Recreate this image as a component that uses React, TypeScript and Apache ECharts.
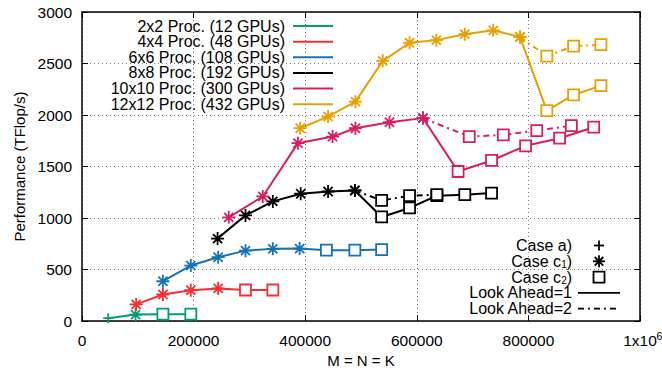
import React, { useEffect, useRef } from 'react';
import * as echarts from 'echarts';

const FONT = "'Liberation Sans', Arial, Helvetica, sans-serif";

// ---- axes ----
const xMin = 0;
const xMax = 1000000;
const xStep = 200000;
const yMin = 0;
const yMax = 3000;
const yStep = 500;
const xMaxLabel = '1x10';
const xMaxLabelExp = '6';

// ---- series names / colours ----
const names = [
  '2x2 Proc. (12 GPUs)',
  '4x4 Proc. (48 GPUs)',
  '6x6 Proc. (108 GPUs)',
  '8x8 Proc. (192 GPUs)',
  '10x10 Proc. (300 GPUs)',
  '12x12 Proc. (432 GPUs)',
];
const colors = ['#009e73', '#f72f35', '#1672b5', '#000000', '#d81e62', '#e8a000'];

// ---- data (Look Ahead = 1) ----
const p2x2X = [47000, 96000, 145000, 195000];
const p2x2Y = [28, 63, 67, 67];
const p2x2Case = ['a', 'c1', 'c2', 'c2'];

const p4x4X = [97000, 145000, 195000, 244000, 293000, 342000];
const p4x4Y = [162, 258, 300, 317, 302, 302];
const p4x4Case = ['c1', 'c1', 'c1', 'c1', 'c2', 'c2'];

const p6x6X = [145000, 195000, 244000, 293000, 342000, 390000, 438000, 489000, 537000];
const p6x6Y = [387, 539, 620, 684, 701, 704, 688, 688, 694];
const p6x6Case = ['c1', 'c1', 'c1', 'c1', 'c1', 'c1', 'c2', 'c2', 'c2'];

const p8x8X = [243000, 293000, 342000, 392000, 441000, 489000, 537000, 587000, 636000, 686000, 734000];
const p8x8Y = [801, 1026, 1162, 1236, 1258, 1268, 1011, 1098, 1217, 1227, 1243];
const p8x8Case = ['c1', 'c1', 'c1', 'c1', 'c1', 'c1', 'c2', 'c2', 'c2', 'c2', 'c2'];

const p10x10X = [263000, 324000, 387000, 449000, 490000, 551000, 611000, 674000, 734000, 795000, 856000, 917000];
const p10x10Y = [1007, 1210, 1727, 1791, 1872, 1930, 1970, 1452, 1559, 1701, 1775, 1882];
const p10x10Case = ['c1', 'c1', 'c1', 'c1', 'c1', 'c1', 'c1', 'c2', 'c2', 'c2', 'c2', 'c2'];

const p12x12X = [391000, 441000, 490000, 539000, 587000, 635000, 686000, 737000, 785000, 833000, 881000, 930000];
const p12x12Y = [1872, 1985, 2130, 2526, 2701, 2727, 2785, 2822, 2757, 2043, 2195, 2285];
const p12x12Case = ['c1', 'c1', 'c1', 'c1', 'c1', 'c1', 'c1', 'c1', 'c1', 'c2', 'c2', 'c2'];

// ---- data (Look Ahead = 2) ----
const p8x8La2X = [489000, 537000, 587000, 636000];
const p8x8La2Y = [1268, 1171, 1217, 1227];
const p8x8La2Case = ['c1', 'c2', 'c2', 'c2'];

const p10x10La2X = [611000, 694000, 755000, 815000, 877000];
const p10x10La2Y = [1970, 1791, 1807, 1849, 1897];
const p10x10La2Case = ['c1', 'c2', 'c2', 'c2', 'c2'];

const p12x12La2X = [785000, 833000, 881000, 930000];
const p12x12La2Y = [2757, 2572, 2669, 2683];
const p12x12La2Case = ['c1', 'c2', 'c2', 'c2'];

// ---- legend texts ----
const caseLabels = ['Case a)', 'Case c', 'Case c'];
const caseSubs = ['', '1', '2'];
const lookAheadLabels = ['Look Ahead=1', 'Look Ahead=2'];

const SYM: Record<string, string> = {
  a: 'path://M0,5L10,5M5,0L5,10',
  c1: 'path://M0,5L10,5M5,0L5,10M1.5,1.5L8.5,8.5M8.5,1.5L1.5,8.5',
  c2: 'path://M0,0L10,0L10,10L0,10Z',
};
const SYMSIZE: Record<string, number> = { a: 10, c1: 13, c2: 11 };
const DASHDOT = [6, 4, 2, 4];

function makeSeries(name: string, color: string, xs: number[], ys: number[], cases: string[], dashed: boolean) {
  return {
    type: 'line',
    name,
    xAxisIndex: 0,
    yAxisIndex: 0,
    data: xs.map((x, i) => ({
      value: [x, ys[i]],
      symbol: SYM[cases[i]],
      symbolSize: SYMSIZE[cases[i]],
    })),
    lineStyle: { color, width: 2, type: dashed ? DASHDOT : 'solid' },
    itemStyle: { color: '#ffffff', borderColor: color, borderWidth: 1.8 },
    emphasis: { disabled: true },
    silent: true,
  };
}

export default function App() {
  const ref = useRef<HTMLDivElement>(null);
  useEffect(() => {
    if (!ref.current) return;
    const chart = echarts.init(ref.current, undefined, { renderer: 'svg' });

    const axisText = { color: '#000', fontFamily: FONT, fontSize: 15.5 };
    const gridLine = { show: true, lineStyle: { color: '#7a7a7a', width: 1, type: [1, 3] } };

    const series: any[] = [
      makeSeries(names[0], colors[0], p2x2X, p2x2Y, p2x2Case, false),
      makeSeries(names[1], colors[1], p4x4X, p4x4Y, p4x4Case, false),
      makeSeries(names[2], colors[2], p6x6X, p6x6Y, p6x6Case, false),
      makeSeries(names[3], colors[3], p8x8X, p8x8Y, p8x8Case, false),
      makeSeries(names[4], colors[4], p10x10X, p10x10Y, p10x10Case, false),
      makeSeries(names[5], colors[5], p12x12X, p12x12Y, p12x12Case, false),
      makeSeries(names[3] + ' LA2', colors[3], p8x8La2X, p8x8La2Y, p8x8La2Case, true),
      makeSeries(names[4] + ' LA2', colors[4], p10x10La2X, p10x10La2Y, p10x10La2Case, true),
      makeSeries(names[5] + ' LA2', colors[5], p12x12La2X, p12x12La2Y, p12x12La2Case, true),
    ];

    const LFS = 16;
    const txtStyle = (t: string, size = LFS) => ({
      text: t, fill: '#000', fontSize: size, fontFamily: FONT,
      align: 'right', verticalAlign: 'middle', textAlign: 'right', textVerticalAlign: 'middle',
    });

    // ---- legends drawn with graphic ----
    const g: any[] = [];
    const L1_TEXT_X = 285;
    const L1_Y0 = 26;
    const L1_DY = 15.65;
    names.forEach((n, i) => {
      const y = L1_Y0 + i * L1_DY;
      g.push({ type: 'text', x: L1_TEXT_X, y, style: txtStyle(n) });
      g.push({
        type: 'line', shape: { x1: 293, y1: y, x2: 333, y2: y },
        style: { stroke: colors[i], lineWidth: 2 },
      });
    });

    const L2_TEXT_X = 572;
    const L2_Y0 = 245.5;
    const L2_DY = 15.8;
    const SX = 599;
    g.push({ type: 'text', x: L2_TEXT_X, y: L2_Y0, style: txtStyle(caseLabels[0]) });
    for (let k = 1; k <= 2; k++) {
      const y = L2_Y0 + k * L2_DY;
      g.push({ type: 'text', x: L2_TEXT_X, y, style: txtStyle(')') });
      g.push({ type: 'text', x: L2_TEXT_X - 5.3, y: y + 3, style: txtStyle(caseSubs[k], 10) });
      g.push({ type: 'text', x: L2_TEXT_X - 5.3 - 5.6, y, style: txtStyle(caseLabels[k]) });
    }
    lookAheadLabels.forEach((t, k) => {
      const y = L2_Y0 + (3 + k) * L2_DY;
      g.push({ type: 'text', x: L2_TEXT_X, y, style: txtStyle(t) });
      g.push({
        type: 'line', shape: { x1: 578, y1: y, x2: 620, y2: y },
        style: { stroke: '#000', lineWidth: 1.8, lineDash: k === 1 ? DASHDOT : null },
      });
    });
    {
      const st = { stroke: '#000', lineWidth: 1.8 };
      const y = L2_Y0;
      g.push({ type: 'line', shape: { x1: SX - 5, y1: y, x2: SX + 5, y2: y }, style: st });
      g.push({ type: 'line', shape: { x1: SX, y1: y - 5, x2: SX, y2: y + 5 }, style: st });
      const y2 = L2_Y0 + L2_DY;
      const r = 6, d = 4.3;
      g.push({ type: 'line', shape: { x1: SX - r, y1: y2, x2: SX + r, y2: y2 }, style: st });
      g.push({ type: 'line', shape: { x1: SX, y1: y2 - r, x2: SX, y2: y2 + r }, style: st });
      g.push({ type: 'line', shape: { x1: SX - d, y1: y2 - d, x2: SX + d, y2: y2 + d }, style: st });
      g.push({ type: 'line', shape: { x1: SX - d, y1: y2 + d, x2: SX + d, y2: y2 - d }, style: st });
      const y3 = L2_Y0 + 2 * L2_DY;
      g.push({ type: 'rect', shape: { x: SX - 5.5, y: y3 - 5.5, width: 11, height: 11 }, style: { fill: 'none', stroke: '#000', lineWidth: 1.8 } });
    }
    // exponent of the last x tick label
    g.push({
      type: 'text', x: 656.5, y: 336,
      style: { text: xMaxLabelExp, fill: '#000', fontSize: 10.5, fontFamily: FONT, align: 'left', verticalAlign: 'middle', textAlign: 'left', textVerticalAlign: 'middle' },
    });

    const option: any = {
      animation: false,
      backgroundColor: '#ffffff',
      grid: { left: 82, right: 22, top: 12, bottom: 51, show: false },
      xAxis: [
        {
          type: 'value', min: xMin, max: xMax, interval: xStep, position: 'bottom',
          axisLine: { show: true, onZero: false, lineStyle: { color: '#000', width: 1.5 } },
          axisTick: { show: true, inside: true, length: 6, lineStyle: { color: '#000', width: 1 } },
          axisLabel: {
            margin: 11, ...axisText,
            formatter: (v: number) => (v === xMax ? xMaxLabel : String(v)),
          },
          splitLine: gridLine,
          name: 'M = N = K', nameLocation: 'middle', nameGap: 29,
          nameTextStyle: { color: '#000', fontFamily: FONT, fontSize: 15 },
        },
        {
          type: 'value', min: xMin, max: xMax, interval: xStep, position: 'top',
          axisLine: { show: true, onZero: false, lineStyle: { color: '#000', width: 1.5 } },
          axisTick: { show: true, inside: true, length: 6, lineStyle: { color: '#000', width: 1 } },
          axisLabel: { show: false },
          splitLine: { show: false },
        },
      ],
      yAxis: [
        {
          type: 'value', min: yMin, max: yMax, interval: yStep, position: 'left',
          axisLine: { show: true, onZero: false, lineStyle: { color: '#000', width: 1.5 } },
          axisTick: { show: true, inside: true, length: 6, lineStyle: { color: '#000', width: 1 } },
          axisLabel: { margin: 10, ...axisText, formatter: (v: number) => String(v) },
          splitLine: gridLine,
          name: 'Performance (TFlop/s)', nameLocation: 'middle', nameGap: 48,
          nameTextStyle: { color: '#000', fontFamily: FONT, fontSize: 15 },
        },
        {
          type: 'value', min: yMin, max: yMax, interval: yStep, position: 'right',
          axisLine: { show: true, onZero: false, lineStyle: { color: '#000', width: 1.5 } },
          axisTick: { show: true, inside: true, length: 6, lineStyle: { color: '#000', width: 1 } },
          axisLabel: { show: false },
          splitLine: { show: false },
        },
      ],
      series,
      graphic: g,
    };
    chart.setOption(option);
    return () => chart.dispose();
  }, []);

  return (
    <div
      ref={ref}
      style={{ position: 'fixed', left: 0, top: 0, width: 662, height: 373, background: '#fff' }}
    />
  );
}
